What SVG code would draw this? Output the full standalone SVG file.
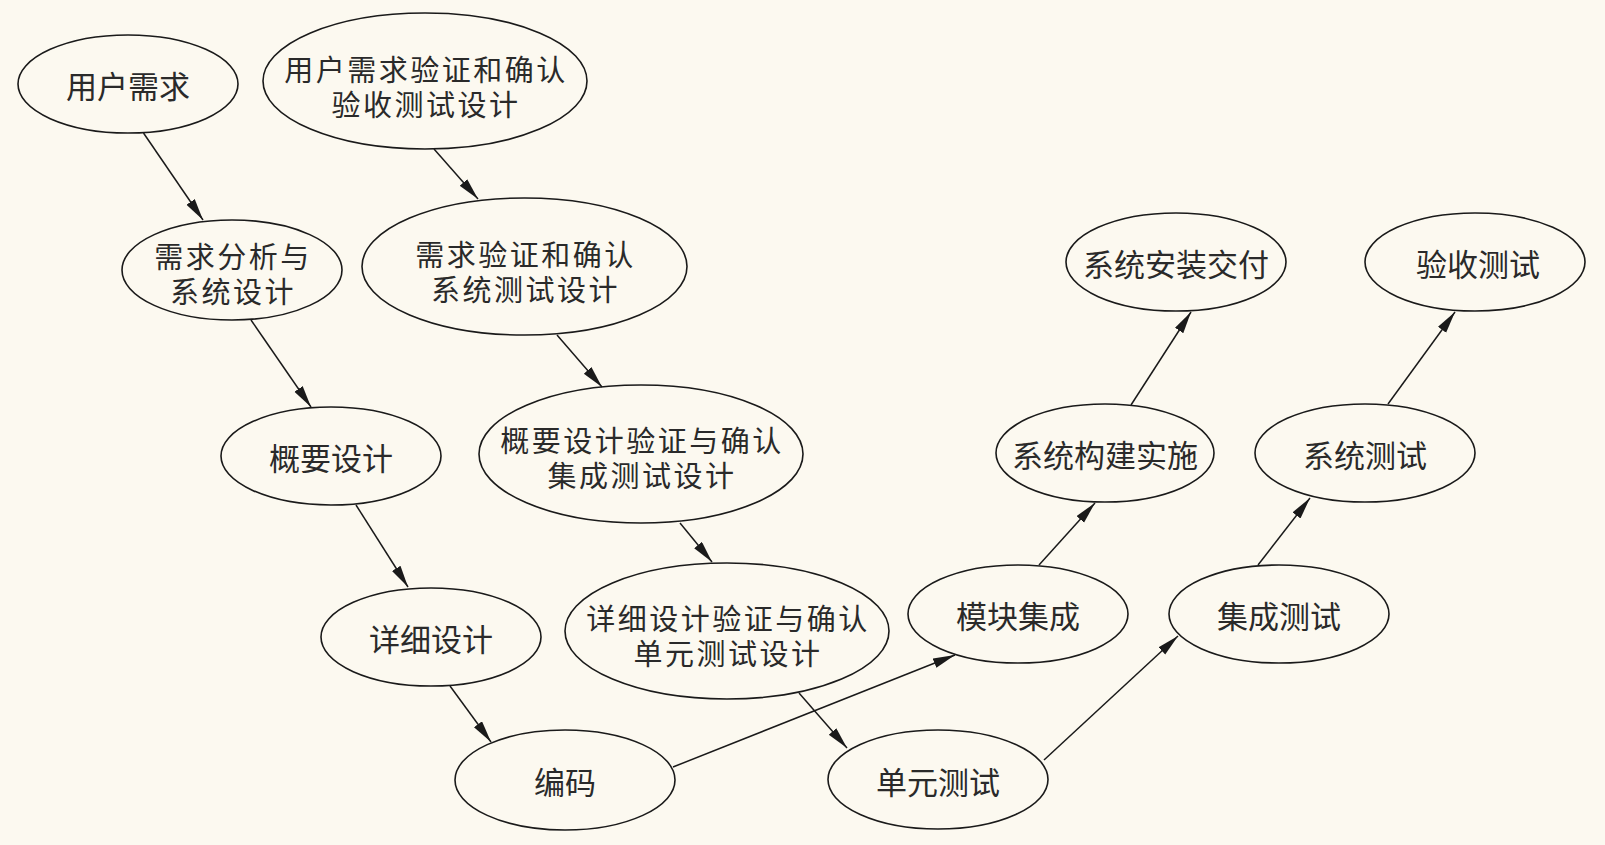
<svg xmlns="http://www.w3.org/2000/svg" width="1605" height="845" viewBox="0 0 1605 845">
<style>
.n ellipse{fill:none;stroke:#1a1a1a;stroke-width:1.6}
.n text{font-family:"Noto Sans CJK SC","Noto Sans",sans-serif;font-size:31px;fill:#2a2a2a;text-anchor:middle}
.n text.m{font-size:29px;letter-spacing:2.5px}
.e line{stroke:#1a1a1a;stroke-width:1.5;marker-end:url(#ah)}
</style>
<defs>
<marker id="ah" markerUnits="userSpaceOnUse" markerWidth="24" markerHeight="12" refX="22" refY="5" orient="auto">
<path d="M0,0 L22,5 L0,10 z" fill="#1a1a1a"/>
</marker>
</defs>
<rect width="1605" height="845" fill="#fcf9f0"/>
<g class="e" id="connectors">
<line x1="143.5" y1="133" x2="203" y2="220"/>
<line x1="251" y1="320" x2="311" y2="407"/>
<line x1="356" y1="505" x2="408" y2="587"/>
<line x1="450" y1="686" x2="491" y2="742"/>
<line x1="434" y1="149" x2="478" y2="199"/>
<line x1="557" y1="335" x2="602" y2="387"/>
<line x1="680" y1="523" x2="712" y2="562"/>
<line x1="799" y1="693" x2="847" y2="748"/>
<line x1="673" y1="767" x2="955" y2="655"/>
<line x1="1044" y1="760" x2="1178" y2="636"/>
<line x1="1039" y1="565" x2="1095" y2="503"/>
<line x1="1131" y1="405" x2="1191" y2="312"/>
<line x1="1258" y1="565" x2="1310" y2="498"/>
<line x1="1388" y1="404" x2="1455" y2="312"/>
</g>
<g class="n" id="n1"><ellipse cx="128" cy="84" rx="110" ry="49"/><text x="128" y="98">用户需求</text></g>
<g class="n" id="n2"><ellipse cx="232" cy="270" rx="110" ry="50"/><text class="m" x="233" y="268">需求分析与<tspan x="233" dy="35">系统设计</tspan></text></g>
<g class="n" id="n3"><ellipse cx="331" cy="456" rx="110" ry="49"/><text x="331" y="470">概要设计</text></g>
<g class="n" id="n4"><ellipse cx="431" cy="637" rx="110" ry="49"/><text x="431" y="651">详细设计</text></g>
<g class="n" id="n5"><ellipse cx="565" cy="780" rx="110" ry="50"/><text x="565" y="794">编码</text></g>
<g class="n" id="n6"><ellipse cx="425" cy="81" rx="162" ry="68"/><text class="m" x="426" y="81">用户需求验证和确认<tspan x="426" dy="35">验收测试设计</tspan></text></g>
<g class="n" id="n7"><ellipse cx="524.5" cy="266.5" rx="162.5" ry="68.5"/><text class="m" x="525.5" y="266">需求验证和确认<tspan x="525.5" dy="35">系统测试设计</tspan></text></g>
<g class="n" id="n8"><ellipse cx="641" cy="454" rx="162" ry="69"/><text class="m" x="642" y="452">概要设计验证与确认<tspan x="642" dy="35">集成测试设计</tspan></text></g>
<g class="n" id="n9"><ellipse cx="727" cy="631" rx="162" ry="68"/><text class="m" x="728" y="630">详细设计验证与确认<tspan x="728" dy="35">单元测试设计</tspan></text></g>
<g class="n" id="n10"><ellipse cx="938" cy="779.5" rx="110" ry="49.5"/><text x="938" y="794">单元测试</text></g>
<g class="n" id="n11"><ellipse cx="1018" cy="614" rx="110" ry="49"/><text x="1018" y="628">模块集成</text></g>
<g class="n" id="n12"><ellipse cx="1279" cy="614" rx="110" ry="49"/><text x="1279" y="628">集成测试</text></g>
<g class="n" id="n13"><ellipse cx="1105" cy="453" rx="109" ry="49"/><text x="1105" y="467">系统构建实施</text></g>
<g class="n" id="n14"><ellipse cx="1365" cy="453" rx="110" ry="49"/><text x="1365" y="467">系统测试</text></g>
<g class="n" id="n15"><ellipse cx="1176" cy="262" rx="110" ry="49"/><text x="1176" y="276">系统安装交付</text></g>
<g class="n" id="n16"><ellipse cx="1475" cy="262" rx="110" ry="49"/><text x="1478" y="276">验收测试</text></g>
</svg>
